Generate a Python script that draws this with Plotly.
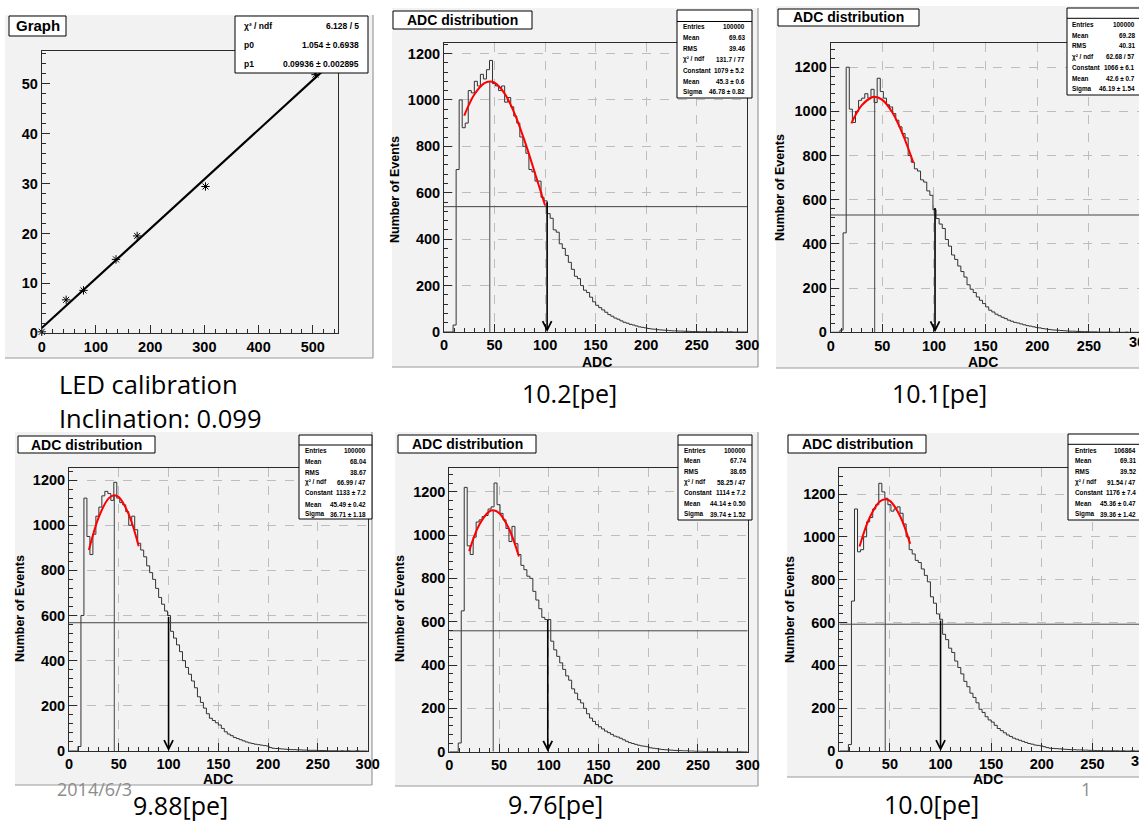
import plotly.graph_objects as go

W, H = 1139, 823

# ---------------- data ----------------
# LED calibration graph (ADC vs photo-electrons)
CAL_ADC = [0, 45, 77, 137, 176, 302, 505]
CAL_PE = [0.3, 6.7, 8.6, 14.8, 19.5, 29.4, 51.8]
CAL_FIT_X = [0, 530]
CAL_FIT_Y = [1.05, 53.7]
CAL_STATS = [("χ² / ndf", "6.128 / 5"), ("p0", "1.054 ± 0.6938"), ("p1", "0.09936 ± 0.002895")]

BIN_WIDTH = 3  # ADC units per histogram bin, bins start at 0

HIST_102 = [0, 0, 0, 30, 700, 1000, 880, 900, 1040, 1030,
            1080, 1060, 1110, 1090, 1130, 1170, 1070, 1060, 1040, 1060,
            990, 1010, 970, 930, 900, 840, 800, 770, 700, 690,
            650, 650, 580, 565, 510, 490, 440, 430, 380, 360,
            330, 300, 270, 240, 230, 200, 180, 170, 150, 130,
            115, 105, 95, 85, 75, 68, 60, 55, 48, 42,
            38, 33, 30, 26, 22, 20, 18, 15, 13, 12,
            10, 9, 8, 7, 6, 5, 5, 4, 4, 3,
            3, 2, 2, 2, 1, 1, 1, 1, 0, 1,
            0, 1, 0, 0, 1, 0, 0, 0, 0, 0]
HIST_101 = [0, 0, 0, 10, 450, 1200, 1010, 950, 1000, 1050,
            1060, 1080, 1060, 1100, 1040, 1150, 1090, 1060, 1030, 1020,
            990, 960, 930, 900, 880, 800, 770, 740, 730, 690,
            680, 640, 620, 555, 515, 490, 470, 420, 390, 350,
            330, 300, 275, 250, 215, 195, 180, 160, 145, 130,
            115, 100, 92, 82, 75, 68, 62, 55, 50, 45,
            42, 38, 34, 30, 28, 25, 22, 20, 17, 15,
            13, 11, 10, 9, 8, 7, 6, 5, 5, 4,
            4, 3, 3, 2, 2, 2, 1, 1, 1, 1,
            1, 0, 1, 0, 0, 1, 0, 0, 0, 0]
HIST_988 = [0, 0, 0, 20, 600, 1120, 950, 870, 960, 1040,
            1080, 1130, 1150, 1140, 1110, 1190, 1120, 1100, 1090, 1060,
            1000, 1040, 980, 920, 890, 860, 820, 790, 760, 720,
            680, 650, 620, 600, 530, 500, 470, 440, 400, 370,
            340, 310, 280, 240, 215, 190, 165, 145, 135, 125,
            115, 100, 85, 75, 68, 60, 55, 50, 45, 40,
            36, 33, 30, 28, 26, 24, 22, 15, 12, 11,
            10, 9, 8, 7, 6, 6, 5, 5, 4, 4,
            3, 3, 3, 2, 2, 2, 1, 1, 1, 1,
            0, 1, 0, 1, 0, 0, 1, 0, 0, 0]
HIST_976 = [0, 0, 0, 40, 650, 1220, 950, 910, 990, 1060,
            1070, 1085, 1090, 1120, 1130, 1240, 1140, 1100, 1070, 1030,
            970, 1040, 960, 910, 860, 840, 810, 800, 740, 700,
            660, 620, 610, 610, 510, 470, 440, 410, 380, 350,
            330, 290, 270, 240, 225, 200, 175, 155, 140, 125,
            115, 105, 95, 88, 80, 72, 68, 62, 55, 48,
            42, 38, 34, 30, 27, 25, 23, 18, 16, 14,
            12, 10, 9, 8, 7, 6, 5, 5, 4, 4,
            3, 3, 2, 2, 2, 1, 1, 1, 1, 0,
            1, 0, 0, 1, 0, 0, 0, 1, 0, 0]
HIST_100 = [0, 0, 0, 30, 700, 1130, 930, 940, 1000, 1070,
            1090, 1130, 1150, 1250, 1210, 1180, 1150, 1120, 1130, 1140,
            1110, 1060, 1000, 940, 920, 890, 880, 850, 820, 790,
            720, 690, 640, 615, 545, 520, 480, 460, 420, 390,
            360, 325, 300, 270, 250, 225, 195, 180, 160, 145,
            135, 120, 105, 95, 85, 75, 68, 60, 55, 50,
            45, 40, 35, 32, 28, 26, 24, 20, 16, 13,
            12, 11, 10, 9, 8, 7, 6, 6, 5, 5,
            4, 4, 3, 3, 2, 2, 2, 1, 1, 1,
            1, 1, 0, 1, 0, 0, 1, 0, 0, 0]

# red Gaussian fit curves
FIT_X_102 = [20, 30, 40, 45.3, 50, 60, 70, 80, 90, 100]
FIT_Y_102 = [932, 1023, 1072, 1079, 1074, 1027, 939, 820, 684, 545]
FIT_X_101 = [20, 30, 40, 42.6, 50, 60, 70, 80]
FIT_Y_101 = [946, 1027, 1064, 1066, 1052, 993, 894, 768]
FIT_X_988 = [20, 30, 40, 45.5, 50, 60, 70]
FIT_Y_988 = [890, 1037, 1120, 1133, 1125, 1048, 907]
FIT_X_976 = [20, 30, 40, 44.1, 50, 60, 70]
FIT_Y_976 = [926, 1046, 1108, 1114, 1102, 1029, 901]
FIT_X_100 = [20, 30, 40, 45.4, 50, 60, 70]
FIT_Y_100 = [955, 1090, 1165, 1176, 1168, 1097, 967]

FIT_MEANS = [45.3, 42.6, 45.49, 44.14, 45.36]
FIT_PEAKS = [1079, 1066, 1133, 1114, 1176]
HALF_MAX = [540, 531, 568, 558, 592]
ARROW_X = [102, 101, 100, 99, 100]
ARROW_TOP = [565, 570, 600, 615, 615]

STATS_102 = [("Entries", "100000"), ("Mean", "69.63"), ("RMS", "39.46"), ("χ² / ndf", "131.7 / 77"),
             ("Constant", "1079 ± 5.2"), ("Mean", "45.3 ± 0.6"), ("Sigma", "46.78 ± 0.82")]
STATS_101 = [("Entries", "100000"), ("Mean", "69.28"), ("RMS", "40.31"), ("χ² / ndf", "62.68 / 57"),
             ("Constant", "1066 ± 6.1"), ("Mean", "42.6 ± 0.7"), ("Sigma", "46.19 ± 1.54")]
STATS_988 = [("Entries", "100000"), ("Mean", "68.04"), ("RMS", "38.67"), ("χ² / ndf", "66.99 / 47"),
             ("Constant", "1133 ± 7.2"), ("Mean", "45.49 ± 0.42"), ("Sigma", "36.71 ± 1.18")]
STATS_976 = [("Entries", "100000"), ("Mean", "67.74"), ("RMS", "38.65"), ("χ² / ndf", "58.25 / 47"),
             ("Constant", "1114 ± 7.2"), ("Mean", "44.14 ± 0.50"), ("Sigma", "39.74 ± 1.52")]
STATS_100 = [("Entries", "106864"), ("Mean", "69.31"), ("RMS", "39.52"), ("χ² / ndf", "91.54 / 47"),
             ("Constant", "1176 ± 7.4"), ("Mean", "45.36 ± 0.47"), ("Sigma", "39.36 ± 1.42")]

CAPTIONS = ["10.2[pe]", "10.1[pe]", "9.88[pe]", "9.76[pe]", "10.0[pe]"]
X_TICKS_CAL = [0, 100, 200, 300, 400, 500]
Y_TICKS_CAL = [0, 10, 20, 30, 40, 50]
X_TICKS_ADC = [0, 50, 100, 150, 200, 250, 300]
Y_TICKS_ADC = [0, 200, 400, 600, 800, 1000, 1200]

# ---------------- helpers ----------------
def fx(px):
    return px / W

def fy(py):
    return 1 - py / H

PAD = "#f2f2f2"
FRAME = "#2b2b2b"
BOLD = dict(family="Liberation Sans, Arial, sans-serif", weight="bold", color="black")
SLIDE = dict(family="Open Sans")

fig = go.Figure()
shapes = []
annotations = []

def pad(x0, y0, x1, y1):
    shapes.append(dict(type="rect", xref="paper", yref="paper", x0=fx(x0), x1=fx(x1), y0=fy(y1), y1=fy(y0),
                       fillcolor=PAD, line=dict(width=0), layer="below"))
    shapes.append(dict(type="line", xref="paper", yref="paper", x0=fx(x0), x1=fx(x1), y0=fy(y1), y1=fy(y1),
                       line=dict(color="#9a9a9a", width=1.2), layer="below"))
    shapes.append(dict(type="line", xref="paper", yref="paper", x0=fx(x1), x1=fx(x1), y0=fy(y1), y1=fy(y0),
                       line=dict(color="#9a9a9a", width=1.2), layer="below"))

def box(x0, y0, x1, y1):
    shapes.append(dict(type="rect", xref="paper", yref="paper", x0=fx(x0), x1=fx(x1), y0=fy(y1), y1=fy(y0),
                       fillcolor="white", line=dict(color="black", width=1), layer="above"))

def text(x, y, s, size, xanchor="center", angle=0, font=None, color="black"):
    f = dict(BOLD) if font is None else dict(font)
    f["size"] = size
    f["color"] = color
    annotations.append(dict(xref="paper", yref="paper", x=fx(x), y=fy(y), text=s, showarrow=False,
                            xanchor=xanchor, yanchor="middle", textangle=angle, font=f))

def axis_common(dom, rng, ticks, minor, grid, mirror=True):
    return dict(domain=dom, range=rng, tickvals=ticks, ticks="inside", ticklen=8, tickwidth=1,
                tickcolor=FRAME, showline=True, linecolor=FRAME, linewidth=1, mirror=mirror,
                showgrid=grid, gridcolor="#bdbdbd", griddash="dash", gridwidth=1, zeroline=False,
                tickfont=dict(BOLD, size=14.5),
                minor=dict(ticks="inside", dtick=minor, ticklen=4, tickcolor=FRAME, showgrid=False))

layout = {}

# ---------------- panel 1: LED calibration ----------------
pad(5, 15, 373, 358)
layout["xaxis"] = axis_common([fx(41.75), fx(338.3)], [0, 547], X_TICKS_CAL, 20, False)
layout["yaxis"] = axis_common([fy(333.3), fy(50.7)], [0, 56.6], Y_TICKS_CAL, 2, False)
layout["xaxis"]["anchor"] = "y"
layout["yaxis"]["anchor"] = "x"
fig.add_trace(go.Scatter(x=CAL_FIT_X, y=CAL_FIT_Y, mode="lines", line=dict(color="black", width=2.2),
                         xaxis="x", yaxis="y", showlegend=False, hoverinfo="skip"))
fig.add_trace(go.Scatter(x=CAL_ADC, y=CAL_PE, mode="markers",
                         marker=dict(symbol="asterisk-open", size=7, color="black", line=dict(width=1, color="black")),
                         xaxis="x", yaxis="y", showlegend=False, cliponaxis=False))
box(9, 16, 66, 36)
text(37.5, 26, "Graph", 15)
box(235, 16, 368, 73)
for (lab, val), ry in zip(CAL_STATS, [26, 45, 64]):
    text(242, ry, lab, 8.5, xanchor="left")
    text(361, ry, val, 8.5, xanchor="right")
text(57, 384, "LED calibration", 25.5, xanchor="left", font=SLIDE)
text(57, 418, "Inclination: 0.099", 25.5, xanchor="left", font=SLIDE)

# ---------------- histogram panels ----------------
HISTS = [HIST_102, HIST_101, HIST_988, HIST_976, HIST_100]
FITS = [(FIT_X_102, FIT_Y_102), (FIT_X_101, FIT_Y_101), (FIT_X_988, FIT_Y_988),
        (FIT_X_976, FIT_Y_976), (FIT_X_100, FIT_Y_100)]
STATS = [STATS_102, STATS_101, STATS_988, STATS_976, STATS_100]

GEOM = [
    dict(pad=(392, 8, 758, 367), px=(444, 747.3), py=(43, 332), xr=300, yr=1245,
         tbox=(393, 11, 532, 29), sbox=(677, 10, 752, 98), hline=21.5,
         rows=[27, 37.7, 48.7, 59.3, 70.3, 81, 91.7], lx=681, vx=747,
         yl=(395, 190), xl=(597, 362), cap=(569, 393), yright=True),
    dict(pad=(776, 6, 1145, 368), px=(830.7, 1139), py=(42.7, 332.3), xr=298.5, yr=1311,
         tbox=(778, 9, 919, 26), sbox=(1067, 8, 1150, 95), hline=18.3,
         rows=[24.3, 35, 46, 56.7, 67.7, 78.7, 89], lx=1070, vx=1137,
         yl=(780, 188), xl=(983, 362), cap=(940, 393), yright=False),
    dict(pad=(15, 432, 372, 785), px=(69, 367.7), py=(468.3, 751), xr=300, yr=1252,
         tbox=(18, 436, 155, 453), sbox=(299, 435, 372, 519), hline=445,
         rows=[450.7, 461.3, 472, 482.3, 493, 504, 514.3], lx=303, vx=368,
         yl=(20, 609), xl=(218, 779), cap=(180, 805), yright=True),
    dict(pad=(395, 432, 758, 786), px=(449.3, 747.7), py=(468.3, 751.7), xr=300, yr=1308,
         tbox=(398, 435, 536, 453), sbox=(678, 435, 752, 520), hline=445,
         rows=[450.7, 461, 471.7, 482.3, 493, 503.7, 514], lx=682, vx=748,
         yl=(400, 609), xl=(598, 779), cap=(555, 804), yright=True),
    dict(pad=(787, 433, 1145, 777), px=(839.3, 1139), py=(468.3, 751), xr=296, yr=1320,
         tbox=(788, 435, 926, 453), sbox=(1068, 434, 1150, 520), hline=444.3,
         rows=[450.7, 461, 471.7, 482.3, 493, 503.7, 514], lx=1073, vx=1138,
         yl=(790, 610), xl=(988, 779), cap=(931, 804), yright=False),
]

for i, g in enumerate(GEOM):
    n = i + 2
    xa, ya = f"x{n}", f"y{n}"
    pad(*g["pad"])
    layout[f"xaxis{n}"] = axis_common([fx(g["px"][0]), fx(g["px"][1])], [0, g["xr"]], X_TICKS_ADC, 10, True)
    layout[f"yaxis{n}"] = axis_common([fy(g["py"][1]), fy(g["py"][0])], [0, g["yr"]], Y_TICKS_ADC, 40, True,
                                      mirror=g["yright"])
    layout[f"xaxis{n}"]["anchor"] = ya
    layout[f"yaxis{n}"]["anchor"] = xa

    vals = HISTS[i]
    edges = [k * BIN_WIDTH for k in range(len(vals) + 1)]
    fig.add_trace(go.Scatter(x=edges, y=vals + [vals[-1]], mode="lines", line=dict(color="#333333", width=1, shape="hv"),
                             xaxis=xa, yaxis=ya, showlegend=False, hoverinfo="skip"))
    fig.add_trace(go.Scatter(x=[FIT_MEANS[i], FIT_MEANS[i]], y=[0, FIT_PEAKS[i]], mode="lines",
                             line=dict(color="#444444", width=1), xaxis=xa, yaxis=ya, showlegend=False))
    fig.add_trace(go.Scatter(x=[0, X_TICKS_ADC[-1]], y=[HALF_MAX[i], HALF_MAX[i]], mode="lines",
                             line=dict(color="#444444", width=1), xaxis=xa, yaxis=ya, showlegend=False))
    fx_, fy_ = FITS[i]
    fig.add_trace(go.Scatter(x=fx_, y=fy_, mode="lines", line=dict(color="#ff0000", width=2, shape="spline"),
                             xaxis=xa, yaxis=ya, showlegend=False))
    annotations.append(dict(xref=xa, yref=ya, axref=xa, ayref=ya, x=ARROW_X[i], y=0,
                            ax=ARROW_X[i], ay=ARROW_TOP[i], showarrow=True, arrowhead=5, arrowsize=1.1,
                            arrowwidth=1.6, arrowcolor="black", text=""))

    tb = g["tbox"]
    box(*tb)
    text((tb[0] + tb[2]) / 2, (tb[1] + tb[3]) / 2, "ADC distribution", 14)
    sb = g["sbox"]
    box(*sb)
    shapes.append(dict(type="line", xref="paper", yref="paper", x0=fx(sb[0]), x1=fx(sb[2]),
                       y0=fy(g["hline"]), y1=fy(g["hline"]), line=dict(color="black", width=1), layer="above"))
    for (lab, val), ry in zip(STATS[i], g["rows"]):
        text(g["lx"], ry, lab, 6.4, xanchor="left")
        text(g["vx"], ry, val, 6.4, xanchor="right")
    text(g["yl"][0], g["yl"][1], "Number of Events", 12.5, angle=-90)
    text(g["xl"][0], g["xl"][1], "ADC", 14)
    text(g["cap"][0], g["cap"][1], CAPTIONS[i], 25, font=SLIDE)

# labels "300" cut by the right edge of the slide
text(830.7 + 300 * 1.033, 341.5, "300", 14.5)
text(839.3 + 300 * 1.013, 761, "300", 14.5)

text(55, 789, "2014/6/3", 18, xanchor="left", font=SLIDE, color="#8c8c8c")
text(1086, 789, "1", 18, font=SLIDE, color="#8c8c8c")

fig.update_layout(width=W, height=H, margin=dict(l=0, r=0, t=0, b=0, autoexpand=False),
                  paper_bgcolor="white", plot_bgcolor=PAD, showlegend=False,
                  shapes=shapes, annotations=annotations, **layout)
fig.write_html("out.html", config={"displayModeBar": False},
               post_script="document.body.style.margin='0';document.body.style.overflow='hidden';")
